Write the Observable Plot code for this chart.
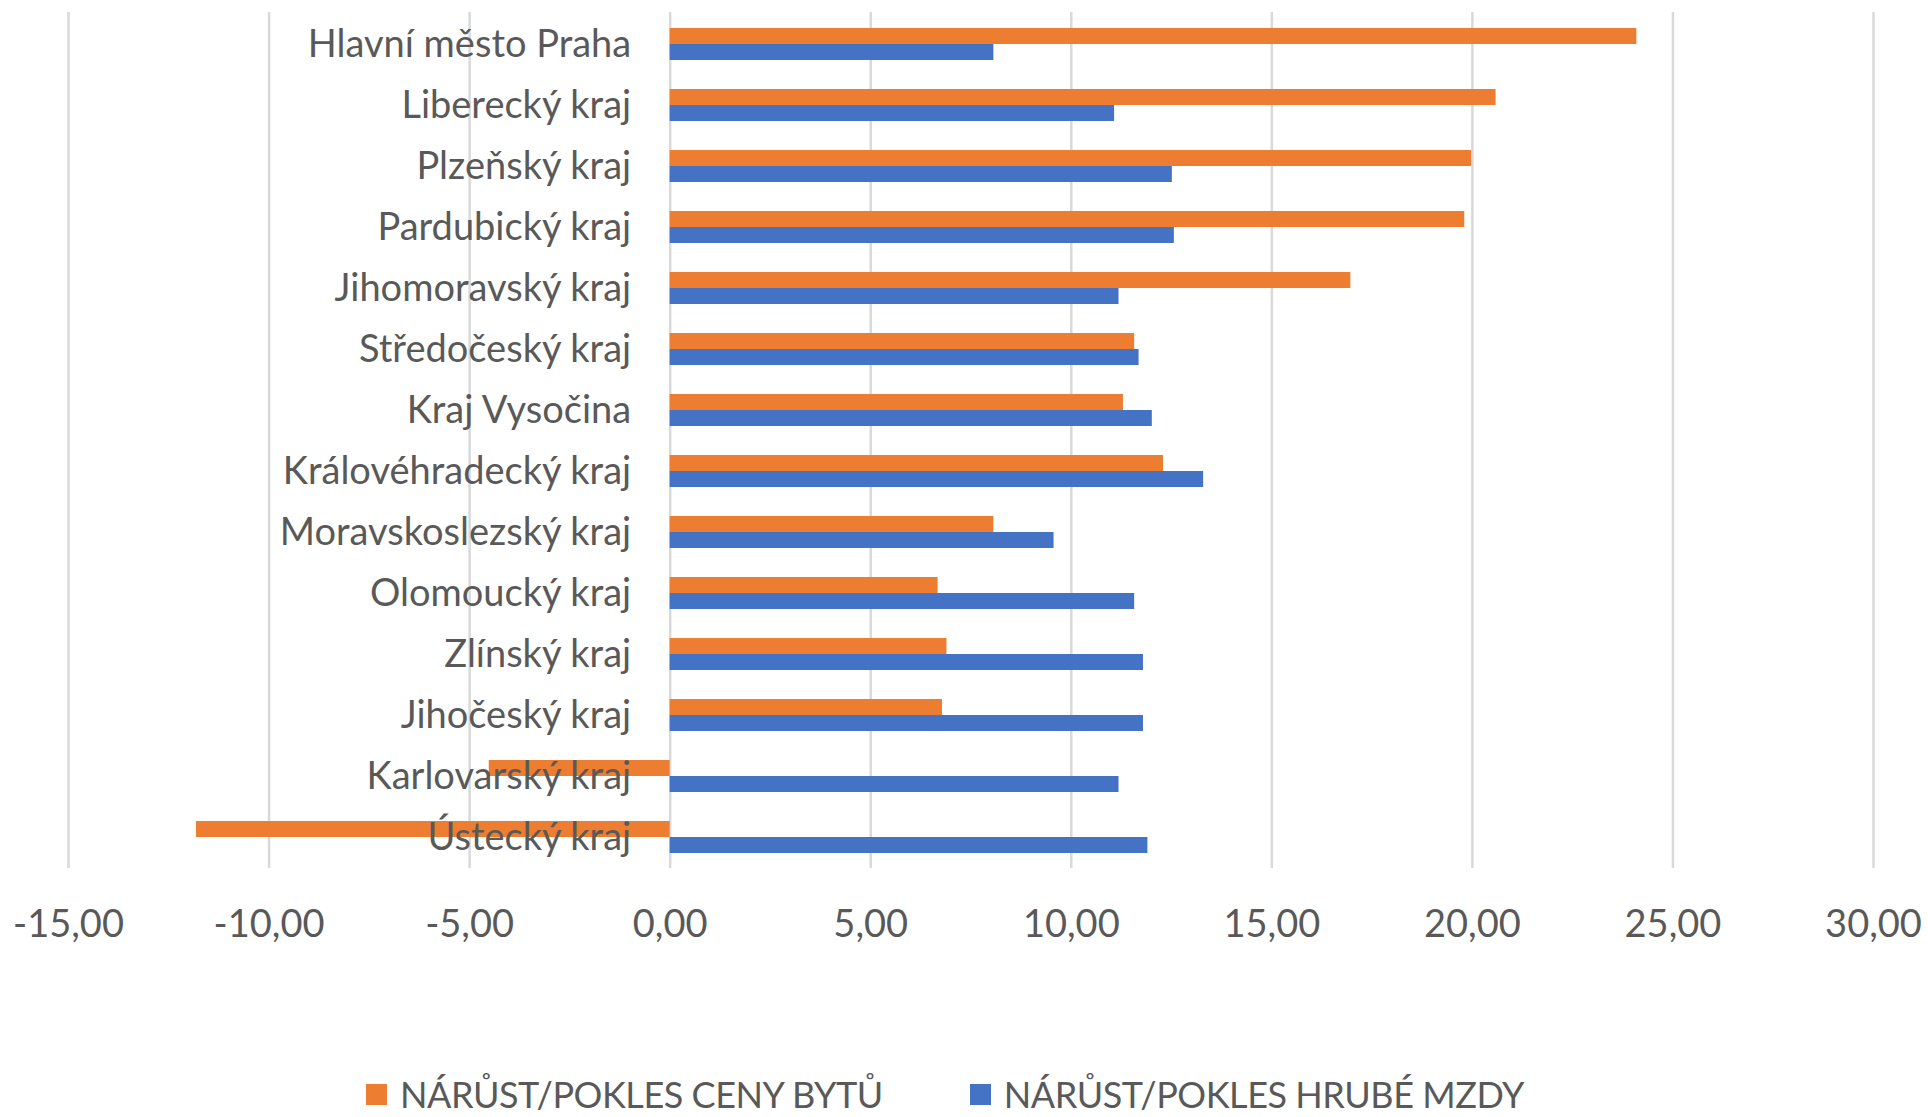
<!DOCTYPE html>
<html>
<head>
<meta charset="utf-8">
<script src="https://cdn.jsdelivr.net/npm/d3@7"></script>
<script src="https://cdn.jsdelivr.net/npm/@observablehq/plot@0.6"></script>
<style>
  html, body { margin: 0; padding: 0; background: #fff; }
  body { width: 1928px; height: 1117px; overflow: hidden; font-family: Lato, sans-serif; }
  #legend { position: absolute; left: 366px; top: 1072px; display: flex; align-items: center; color: #595959; font-size: 36px; letter-spacing: -0.45px; white-space: nowrap; }
  .item { display: flex; align-items: center; }
  .sw { width: 21px; height: 21px; margin-right: 13px; }
</style>
</head>
<body>
<div id="chart"></div>
<div id="legend"></div>
<script>
const regions = ["Hlavní město Praha","Liberecký kraj","Plzeňský kraj","Pardubický kraj","Jihomoravský kraj","Středočeský kraj","Kraj Vysočina","Královéhradecký kraj","Moravskoslezský kraj","Olomoucký kraj","Zlínský kraj","Jihočeský kraj","Karlovarský kraj","Ústecký kraj"];
const cenyBytu = [24.1, 20.59, 19.98, 19.81, 16.97, 11.58, 11.30, 12.30, 8.07, 6.68, 6.90, 6.79, -4.51, -11.81];
const hrubeMzdy = [8.07, 11.08, 12.52, 12.57, 11.19, 11.69, 12.02, 13.30, 9.57, 11.58, 11.80, 11.80, 11.19, 11.91];
const seriesNames = ["NÁRŮST/POKLES CENY BYTŮ", "NÁRŮST/POKLES HRUBÉ MZDY"];
const seriesColors = ["#ED7D31", "#4472C4"];
const xTicks = [-15, -10, -5, 0, 5, 10, 15, 20, 25, 30];

const bytyData = regions.map((r, i) => ({region: r, value: cenyBytu[i]}));
const mzdyData = regions.map((r, i) => ({region: r, value: hrubeMzdy[i]}));
const fmt = d => d.toFixed(2).replace(".", ",");

const chart = Plot.plot({
  width: 1928,
  height: 1050,
  marginTop: 12,
  marginBottom: 182,
  marginLeft: 68,
  marginRight: 55,
  style: {fontFamily: "Lato, sans-serif", fontSize: "38px", color: "#595959", background: "white", overflow: "visible"},
  x: {domain: [-15, 30], ticks: xTicks, tickFormat: fmt, tickSize: 0, tickPadding: 42, label: null},
  y: {domain: regions, paddingInner: 0.48, paddingOuter: 0.24, axis: null},
  marks: [
    Plot.gridX(xTicks, {stroke: "#d9d9d9", strokeOpacity: 1, strokeWidth: 2.5}),
    Plot.barX(bytyData, {x: "value", y: "region", fill: seriesColors[0], insetBottom: 16}),
    Plot.barX(mzdyData, {x: "value", y: "region", fill: seriesColors[1], insetTop: 16}),
    Plot.text(regions, {x: d => 0, y: d => d, text: d => d, textAnchor: "end", dx: -39, fill: "#595959", fontSize: 38})
  ]
});
document.getElementById("chart").appendChild(chart);

const legend = document.getElementById("legend");
seriesNames.forEach((name, i) => {
  const item = document.createElement("div");
  item.className = "item";
  if (i > 0) item.style.marginLeft = "87px";
  const sw = document.createElement("span");
  sw.className = "sw";
  sw.style.background = seriesColors[i];
  const t = document.createElement("span");
  t.textContent = name;
  item.appendChild(sw);
  item.appendChild(t);
  legend.appendChild(item);
});
</script>
</body>
</html>
